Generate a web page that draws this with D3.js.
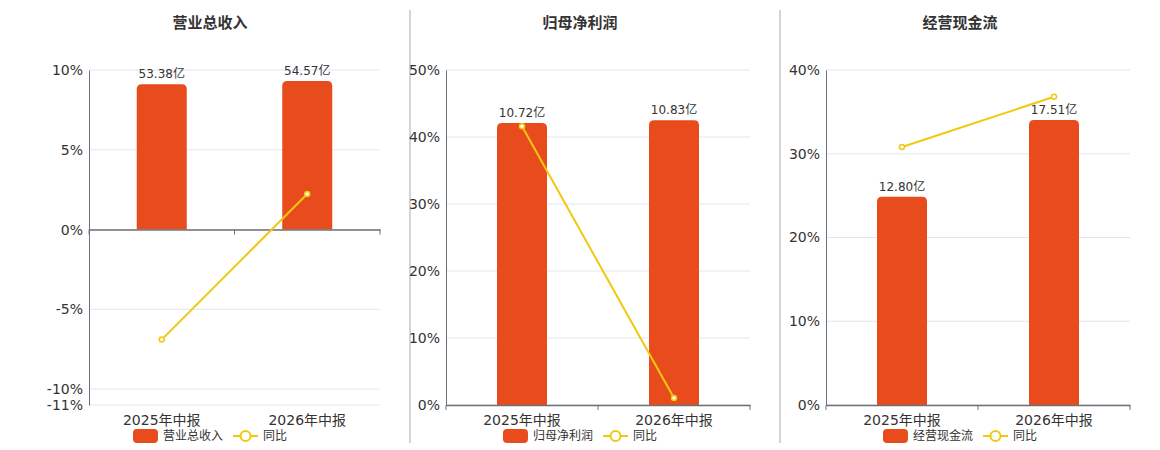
<!DOCTYPE html>
<html><head><meta charset="utf-8">
<script src="https://cdn.jsdelivr.net/npm/d3@7/dist/d3.min.js"></script>
<style>body{margin:0;background:#fff;}svg{display:block;font-family:"DejaVu Sans","Noto Sans CJK SC",sans-serif;}</style>
</head><body>
<svg id="c" width="1160" height="450"></svg>
<script>
// ---- data ----
const categories = ["2025年中报", "2026年中报"];
const titles = ["营业总收入", "归母净利润", "经营现金流"];
const barValues = [[53.38, 54.57], [10.72, 10.83], [12.80, 17.51]];
const barLabels = [["53.38亿", "54.57亿"], ["10.72亿", "10.83亿"], ["12.80亿", "17.51亿"]];
const yoyValues = [[-6.9, 2.23], [41.6, 1.03], [30.8, 36.8]];
const yTicks = [[10, 5, 0, -5, -10, -11], [0, 10, 20, 30, 40, 50], [0, 10, 20, 30, 40]];
const yDomains = [[-11, 10], [0, 50], [0, 40]];
const barDomainTop = [58.6, 12.74, 20.58];
const legendLine = "同比";

// ---- layout ----
const layout = [
  {left: 89, right: 380, cx: 210},
  {left: 446, right: 750, cx: 580},
  {left: 826, right: 1130, cx: 960}
];
const plotTop = 70, plotBottom = 405;
const barColor = "#E84C1C", lineColor = "#F2C80F", axisColor = "#6E7079", gridColor = "#E0E6F1", textColor = "#333";

const svg = d3.select("#c");

// dividers
[410, 780].forEach(x => svg.append("line").attr("x1", x).attr("x2", x).attr("y1", 10).attr("y2", 443)
  .attr("stroke", "#aaa").attr("stroke-width", 1));

function roundTopRect(x, y, w, h, r) {
  r = Math.min(r, h, w / 2);
  return `M${x},${y + h}V${y + r}Q${x},${y} ${x + r},${y}H${x + w - r}Q${x + w},${y} ${x + w},${y + r}V${y + h}Z`;
}

titles.forEach((title, i) => {
  const L = layout[i];
  const g = svg.append("g");
  const x = d3.scaleBand().domain(categories).range([L.left, L.right]).padding(0);
  const y = d3.scaleLinear().domain(yDomains[i]).range([plotBottom, plotTop]);
  const y0 = y(0);
  const yb = d3.scaleLinear().domain([0, barDomainTop[i]]).range([y0, plotTop]);

  // title
  g.append("text").attr("x", L.cx).attr("y", 28).attr("text-anchor", "middle")
    .attr("font-size", 15).attr("font-weight", "bold").attr("fill", textColor).text(title);

  // grid
  g.selectAll(".grid").data(yTicks[i]).enter().append("line")
    .attr("x1", L.left).attr("x2", L.right).attr("y1", d => y(d)).attr("y2", d => y(d))
    .attr("stroke", gridColor).attr("stroke-width", 1);

  // y axis
  const ya = g.append("g").attr("transform", `translate(${L.left},0)`)
    .call(d3.axisLeft(y).tickValues(yTicks[i]).tickSize(0).tickPadding(6).tickFormat(d => d + "%"));
  ya.attr("font-family", null).attr("font-size", null);
  ya.select(".domain").attr("stroke", axisColor).attr("stroke-width", 1);
  ya.selectAll("text").attr("font-size", 14).attr("fill", textColor);

  // bars
  g.selectAll(".bar").data(barValues[i]).enter().append("path")
    .attr("d", (d, j) => {
      const bw = 50;
      const cx = x(categories[j]) + x.bandwidth() / 2;
      return roundTopRect(cx - bw / 2, yb(d), bw, y0 - yb(d), 5);
    })
    .attr("fill", barColor);

  g.selectAll(".blab").data(barValues[i]).enter().append("text")
    .attr("x", (d, j) => x(categories[j]) + x.bandwidth() / 2)
    .attr("y", d => yb(d) - 6)
    .attr("text-anchor", "middle").attr("font-size", 12).attr("fill", textColor)
    .text((d, j) => barLabels[i][j]);

  // x axis
  const xa = g.append("g").attr("transform", `translate(0,${y0})`)
    .call(d3.axisBottom(x).tickSize(0).tickFormat(""));
  xa.select(".domain").attr("stroke", axisColor).attr("stroke-width", 1.5);
  xa.selectAll(".tick").remove();
  const bounds = [L.left].concat(categories.map(c => x(c) + x.bandwidth()));
  g.selectAll(".xt").data(bounds).enter().append("line")
    .attr("x1", d => d).attr("x2", d => d).attr("y1", y0).attr("y2", y0 + 5)
    .attr("stroke", axisColor).attr("stroke-width", 1);
  g.selectAll(".xl").data(categories).enter().append("text")
    .attr("x", d => x(d) + x.bandwidth() / 2).attr("y", plotBottom + 20)
    .attr("text-anchor", "middle").attr("font-size", 14).attr("fill", textColor).text(d => d);

  // line
  const line = d3.line().x((d, j) => x(categories[j]) + x.bandwidth() / 2).y(d => y(d));
  g.append("path").datum(yoyValues[i]).attr("d", line).attr("fill", "none")
    .attr("stroke", lineColor).attr("stroke-width", 2);
  g.selectAll(".pt").data(yoyValues[i]).enter().append("circle")
    .attr("cx", (d, j) => x(categories[j]) + x.bandwidth() / 2).attr("cy", d => y(d)).attr("r", 2.5)
    .attr("fill", "#fff").attr("stroke", lineColor).attr("stroke-width", 1.5);

  // legend
  const lg = g.append("g");
  let lx = 0;
  lg.append("rect").attr("x", lx).attr("y", 429).attr("width", 25).attr("height", 14).attr("rx", 4)
    .attr("fill", barColor);
  lx += 30;
  const t1 = lg.append("text").attr("x", lx).attr("y", 440).attr("font-size", 12).attr("fill", textColor).text(title);
  lx += t1.node().getComputedTextLength() + 10;
  lg.append("line").attr("x1", lx).attr("x2", lx + 25).attr("y1", 436).attr("y2", 436)
    .attr("stroke", lineColor).attr("stroke-width", 2);
  lg.append("circle").attr("cx", lx + 12.5).attr("cy", 436).attr("r", 5).attr("fill", "#fff")
    .attr("stroke", lineColor).attr("stroke-width", 2);
  lx += 30;
  const t2 = lg.append("text").attr("x", lx).attr("y", 440).attr("font-size", 12).attr("fill", textColor).text(legendLine);
  lx += t2.node().getComputedTextLength();
  lg.attr("transform", `translate(${L.cx - lx / 2},0)`);
});
</script>
</body></html>
